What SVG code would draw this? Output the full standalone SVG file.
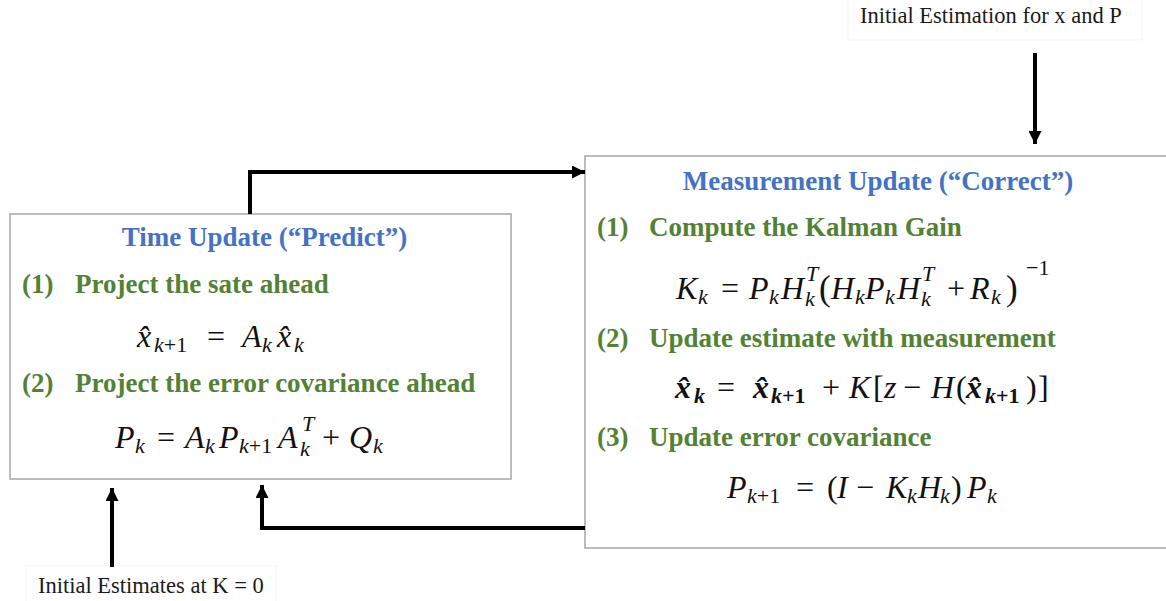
<svg xmlns="http://www.w3.org/2000/svg" width="1166" height="601" viewBox="0 0 1166 601">
<defs>
<style>
.box{fill:#fff;stroke:#a6a6a6;stroke-width:1.5}
.lbox{fill:#fff;stroke:#f5f5f5;stroke-width:1}
.conn{fill:none;stroke:#000;stroke-width:4}
.title{font-family:"Liberation Serif",serif;font-weight:bold;font-size:27px;fill:#4472C4}
.step{font-family:"Liberation Serif",serif;font-weight:bold;font-size:27px;fill:#538135}
.lbl{font-family:"Liberation Serif",serif;font-size:22.5px;fill:#1a1a1a}
.m{font-family:"Liberation Serif",serif;font-style:italic;font-size:32px;fill:#111}
.u{font-style:normal}
.s{font-size:22px}
.b{font-weight:bold}
.big{font-style:normal;font-size:35px}
</style>
<marker id="ah" markerWidth="13" markerHeight="13" refX="13" refY="6.5" orient="auto" markerUnits="userSpaceOnUse">
<path d="M0,0 L13,6.5 L0,13 Z" fill="#000"/>
</marker>
</defs>
<rect width="1166" height="601" fill="#fff"/>

<g id="label-top">
<rect class="lbox" x="848" y="-1" width="294" height="41"/>
<text class="lbl" x="860" y="23">Initial Estimation for x and P</text>
</g>

<g id="label-bottom">
<rect class="lbox" x="26" y="566" width="250" height="40"/>
<text class="lbl" x="38" y="593">Initial Estimates at K = 0</text>
</g>

<g id="time-update">
<rect class="box" x="10" y="214" width="501" height="265"/>
<text class="title" x="264.5" y="246" text-anchor="middle">Time Update (“Predict”)</text>
<text class="step" x="22" y="293">(1)</text>
<text class="step" x="75" y="293">Project the sate ahead</text>
<text class="m"><tspan x="137" y="347">x̂</tspan><tspan class="s" x="154" y="352">k<tspan class="u">+1</tspan></tspan><tspan class="u" x="207" y="347">=</tspan><tspan x="242" y="347">A</tspan><tspan class="s" x="262" y="352">k</tspan><tspan x="277" y="347">x̂</tspan><tspan class="s" x="294" y="352">k</tspan></text>
<text class="step" x="22" y="392">(2)</text>
<text class="step" x="75" y="392">Project the error covariance ahead</text>
<text class="m"><tspan x="115" y="448">P</tspan><tspan class="s" x="135" y="453">k</tspan><tspan class="u" x="157" y="448">=</tspan><tspan x="185" y="448">A</tspan><tspan class="s" x="205" y="453">k</tspan><tspan x="219" y="448">P</tspan><tspan class="s" x="239" y="453">k<tspan class="u">+1</tspan></tspan><tspan x="278" y="448">A</tspan><tspan class="s" x="302" y="431">T</tspan><tspan class="s" x="300" y="456">k</tspan><tspan class="u" x="322" y="448">+</tspan><tspan x="349" y="448">Q</tspan><tspan class="s" x="373" y="453">k</tspan></text>
</g>

<g id="measurement-update">
<rect class="box" x="585" y="156" width="590" height="392"/>
<text class="title" x="878" y="190" text-anchor="middle">Measurement Update (“Correct”)</text>
<text class="step" x="597" y="236">(1)</text>
<text class="step" x="649" y="236">Compute the Kalman Gain</text>
<text class="m"><tspan x="676" y="299">K</tspan><tspan class="s" x="698" y="304">k</tspan><tspan class="u" x="721" y="299">=</tspan><tspan x="749" y="299">P</tspan><tspan class="s" x="769" y="304">k</tspan><tspan x="781" y="299">H</tspan><tspan class="s" x="806" y="281">T</tspan><tspan class="s" x="805" y="306">k</tspan><tspan class="big" x="819" y="300">(</tspan><tspan x="831" y="299">H</tspan><tspan class="s" x="855" y="304">k</tspan><tspan x="865" y="299">P</tspan><tspan class="s" x="885" y="304">k</tspan><tspan x="897" y="299">H</tspan><tspan class="s" x="922" y="281">T</tspan><tspan class="s" x="921" y="306">k</tspan><tspan class="u" x="947" y="299">+</tspan><tspan x="970" y="299">R</tspan><tspan class="s" x="991" y="304">k</tspan><tspan class="big" x="1006" y="300">)</tspan><tspan class="s u" x="1026" y="275">−1</tspan></text>
<text class="step" x="597" y="347">(2)</text>
<text class="step" x="649" y="347">Update estimate with measurement</text>
<text class="m"><tspan class="b" x="675" y="398">x̂</tspan><tspan class="s b" x="694" y="403">k</tspan><tspan class="u" x="717" y="398">=</tspan><tspan class="b" x="753" y="398">x̂</tspan><tspan class="s b" x="771" y="403">k<tspan class="u">+1</tspan></tspan><tspan class="u" x="822" y="398">+</tspan><tspan x="849" y="398">K</tspan><tspan class="u" x="873" y="398">[</tspan><tspan x="884" y="398">z</tspan><tspan class="u" x="903" y="398">−</tspan><tspan x="931" y="398">H</tspan><tspan class="u" x="956" y="398">(</tspan><tspan class="b" x="966" y="398">x̂</tspan><tspan class="s b" x="985" y="403">k<tspan class="u">+1</tspan></tspan><tspan class="u" x="1026" y="398">)</tspan><tspan class="u" x="1038" y="398">]</tspan></text>
<text class="step" x="597" y="446">(3)</text>
<text class="step" x="649" y="446">Update error covariance</text>
<text class="m"><tspan x="727" y="498">P</tspan><tspan class="s" x="747" y="503">k<tspan class="u">+1</tspan></tspan><tspan class="u" x="796" y="498">=</tspan><tspan class="u" x="827" y="498">(</tspan><tspan x="837" y="498">I</tspan><tspan class="u" x="856" y="498">−</tspan><tspan x="886" y="498">K</tspan><tspan class="s" x="907" y="503">k</tspan><tspan x="918" y="498">H</tspan><tspan class="s" x="940" y="503">k</tspan><tspan class="u" x="951" y="498">)</tspan><tspan x="967" y="498">P</tspan><tspan class="s" x="987" y="503">k</tspan></text>
</g>

<g id="connectors">
<polyline class="conn" points="250,214 250,172 585,172" marker-end="url(#ah)"/>
<polyline class="conn" points="585,528 262,528 262,485" marker-end="url(#ah)"/>
<line class="conn" x1="112" y1="567" x2="112" y2="488" marker-end="url(#ah)"/>
<line class="conn" x1="1035" y1="53" x2="1035" y2="144" marker-end="url(#ah)"/>
</g>
</svg>
